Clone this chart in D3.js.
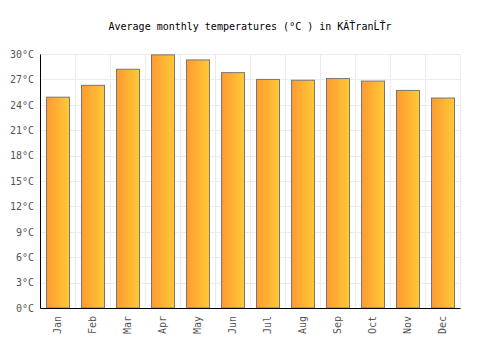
<!DOCTYPE html>
<html>
<head>
<meta charset="utf-8">
<script src="https://cdn.jsdelivr.net/npm/d3@7"></script>
<style>
  body { margin: 0; background: #fff; }
  text { font-family: "DejaVu Sans Mono", monospace; }
</style>
</head>
<body>
<svg id="chart"></svg>
<script>
const months = ['Jan', 'Feb', 'Mar', 'Apr', 'May', 'Jun', 'Jul', 'Aug', 'Sep', 'Oct', 'Nov', 'Dec'];
const temps = [24.9, 26.3, 28.2, 29.9, 29.3, 27.8, 27.0, 26.9, 27.1, 26.8, 25.7, 24.8];
const yTicks = [0, 3, 6, 9, 12, 15, 18, 21, 24, 27, 30];
const title = 'Average monthly temperatures (°C ) in KĂŤranĹŤr';

const width = 500;
const height = 350;
const margin = { top: 54, right: 40, bottom: 42, left: 40 };

const svg = d3.select('#chart')
    .attr('width', width)
    .attr('height', height);

const x = d3.scaleBand()
    .domain(months)
    .range([margin.left, width - margin.right])
    .paddingInner(0.34)
    .paddingOuter(0.17);

const y = d3.scaleLinear()
    .domain([0, 30])
    .range([height - margin.bottom, margin.top]);

const defs = svg.append('defs');
const grad = defs.append('linearGradient')
    .attr('id', 'barGrad')
    .attr('x1', '0%').attr('x2', '100%')
    .attr('y1', '0%').attr('y2', '0%');
grad.append('stop').attr('offset', '0%').attr('stop-color', '#ff9a30');
grad.append('stop').attr('offset', '100%').attr('stop-color', '#ffc936');

// grid
const bounds = d3.range(months.length + 1).map(i => margin.left + i * (width - margin.left - margin.right) / months.length);
svg.append('g')
    .selectAll('line')
    .data(bounds)
    .enter().append('line')
    .attr('x1', d => d + 0.5).attr('x2', d => d + 0.5)
    .attr('y1', y(30)).attr('y2', y(0))
    .attr('stroke', '#ebebeb');

svg.append('g')
    .selectAll('line')
    .data(yTicks)
    .enter().append('line')
    .attr('x1', margin.left).attr('x2', width - margin.right)
    .attr('y1', d => Math.round(y(d)) + 0.5).attr('y2', d => Math.round(y(d)) + 0.5)
    .attr('stroke', '#ebebeb');

// bars
svg.append('g')
    .selectAll('rect')
    .data(temps)
    .enter().append('rect')
    .attr('x', (d, i) => Math.round(x(months[i])) + 0.5)
    .attr('width', Math.round(x.bandwidth()))
    .attr('y', d => y(d))
    .attr('height', d => y(0) - y(d))
    .attr('fill', 'url(#barGrad)')
    .attr('stroke', '#777')
    .attr('stroke-width', 1);

// axes
const yAxis = svg.append('g')
    .attr('transform', `translate(${margin.left},0)`)
    .call(d3.axisLeft(y).tickValues(yTicks).tickSize(0).tickPadding(6).tickFormat(d => d + '°C'));
yAxis.select('.domain').attr('stroke', '#000');
yAxis.selectAll('text')
    .attr('fill', '#555')
    .style('font-size', '10px')
    .style('font-family', '"DejaVu Sans Mono", monospace');

const xAxis = svg.append('g')
    .attr('transform', `translate(0,${y(0)})`)
    .call(d3.axisBottom(x).tickSize(0).tickPadding(8));
xAxis.select('.domain').attr('stroke', '#000');
xAxis.selectAll('text')
    .attr('fill', '#555')
    .style('font-size', '10px')
    .style('font-family', '"DejaVu Sans Mono", monospace')
    .attr('transform', 'rotate(-90)')
    .attr('text-anchor', 'end')
    .attr('dx', '-8')
    .attr('dy', '0.35em')
    .attr('y', 0);

svg.append('text')
    .attr('x', width / 2)
    .attr('y', 30)
    .attr('text-anchor', 'middle')
    .style('font-size', '10px')
    .attr('fill', '#000')
    .text(title);
</script>
</body>
</html>
